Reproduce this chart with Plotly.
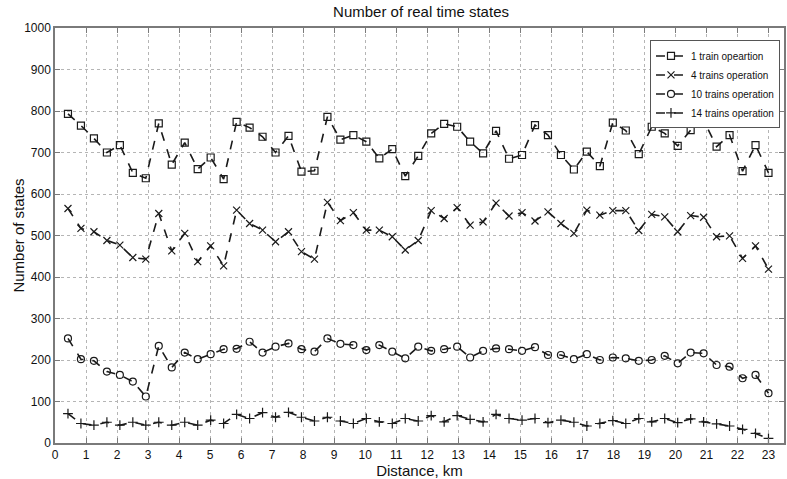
import plotly.graph_objects as go

distance_km = [0.418, 0.836, 1.255, 1.673, 2.091, 2.509, 2.927, 3.345, 3.764, 4.182,
               4.600, 5.018, 5.436, 5.855, 6.273, 6.691, 7.109, 7.527, 7.945, 8.364,
               8.782, 9.200, 9.618, 10.036, 10.455, 10.873, 11.291, 11.709, 12.127, 12.545,
               12.964, 13.382, 13.800, 14.218, 14.636, 15.055, 15.473, 15.891, 16.309, 16.727,
               17.145, 17.564, 17.982, 18.400, 18.818, 19.236, 19.655, 20.073, 20.491, 20.909,
               21.327, 21.745, 22.164, 22.582, 23.000]

train1 = [793, 765, 734, 700, 718, 651, 638, 770, 671, 724,
          660, 688, 636, 774, 760, 738, 700, 740, 654, 656,
          786, 731, 742, 726, 686, 708, 643, 692, 746, 769,
          762, 726, 698, 752, 685, 694, 766, 742, 694, 659,
          702, 667, 772, 753, 696, 762, 746, 716, 754, 778,
          714, 742, 655, 718, 651]

trains4 = [565, 517, 509, 488, 477, 447, 443, 553, 463, 505,
           437, 475, 427, 561, 529, 513, 485, 509, 461, 443,
           580, 536, 555, 513, 513, 497, 465, 488, 560, 541,
           567, 525, 533, 578, 547, 555, 535, 557, 529, 505,
           561, 549, 560, 560, 512, 551, 545, 509, 548, 544,
           497, 499, 445, 475, 419]

trains10 = [252, 202, 198, 172, 164, 148, 112, 234, 182, 218,
            202, 214, 226, 227, 244, 218, 232, 240, 226, 220,
            252, 239, 236, 224, 236, 220, 204, 232, 222, 226,
            232, 206, 222, 228, 226, 222, 231, 212, 212, 202,
            214, 200, 206, 204, 198, 200, 210, 192, 218, 216,
            188, 184, 156, 164, 120]

trains14 = [71, 47, 43, 50, 43, 50, 43, 50, 43, 50,
            43, 55, 47, 69, 59, 73, 62, 74, 62, 53,
            62, 53, 47, 59, 51, 47, 59, 53, 66, 51,
            66, 57, 51, 69, 59, 55, 59, 49, 55, 50,
            41, 47, 54, 47, 59, 51, 59, 49, 58, 51,
            46, 41, 33, 23, 11]

series_names = ["1 train opeartion", "4 trains operation",
                "10 trains operation", "14 trains operation"]
series_values = [train1, trains4, trains10, trains14]
series_symbols = ["square-open", "x-thin-open", "circle-open", "cross-thin-open"]

x_ticks = list(range(0, 24))
y_ticks = list(range(0, 1001, 100))

FONT = "Liberation Sans, Arial"

fig = go.Figure()
for name, vals, sym in zip(series_names, series_values, series_symbols):
    fig.add_trace(go.Scatter(
        x=distance_km, y=vals, name=name, mode="lines+markers",
        line=dict(color="#1a1a1a", width=1.6, dash="dash"),
        marker=dict(symbol=sym, size=7, color="#1a1a1a",
                    line=dict(color="#1a1a1a", width=1.2)),
    ))

axis_common = dict(
    showline=True, linecolor="#7a7a7a", linewidth=1.5, mirror="ticks",
    ticks="inside", ticklen=5, tickcolor="#7a7a7a",
    showgrid=True, gridcolor="#b5b5b5", griddash="dot", gridwidth=1,
    zeroline=False, tickfont=dict(family=FONT, size=12, color="#111"),
)

fig.update_layout(
    width=787, height=479,
    margin=dict(l=55, r=1, t=28, b=36),
    paper_bgcolor="white", plot_bgcolor="white",
    title=dict(text="Number of real time states", x=0.535, xanchor="center",
               y=0.975, yanchor="middle",
               font=dict(family=FONT, size=15, color="#111")),
    font=dict(family=FONT, color="#111"),
    xaxis=dict(range=[0, 23.5], tickvals=x_ticks,
               title=dict(text="Distance, km", standoff=2,
                          font=dict(size=15, family=FONT)),
               **axis_common),
    yaxis=dict(range=[0, 1000], tickvals=y_ticks, **axis_common),
    legend=dict(x=0.9945, y=0.97, xanchor="right", yanchor="top",
                bgcolor="white", bordercolor="#555", borderwidth=1,
                font=dict(family=FONT, size=10, color="#111"),
                tracegroupgap=0, itemwidth=30),
    showlegend=True,
    annotations=[dict(text="Number of states", xref="paper", yref="paper",
                      x=-0.0506, y=0.5, xanchor="center", yanchor="middle",
                      textangle=-90, showarrow=False,
                      font=dict(size=15, family=FONT, color="#111"))],
)

fig.write_html("out.html", config={"displayModeBar": False},
               post_script="document.body.style.margin='0px';document.body.style.overflow='hidden';")
